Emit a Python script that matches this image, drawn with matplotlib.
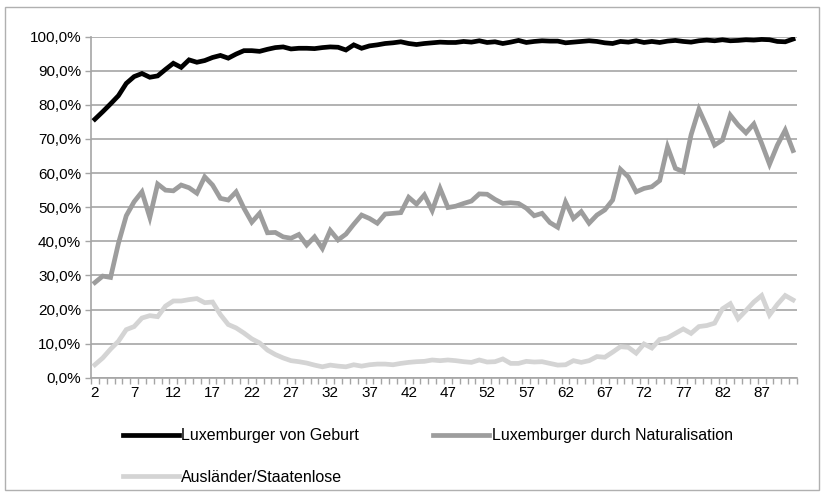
import matplotlib
matplotlib.use('Agg')
import matplotlib.pyplot as plt
from matplotlib.patches import Rectangle
from matplotlib.ticker import FuncFormatter, MultipleLocator, FixedLocator

plt.rcParams['font.family'] = ['Liberation Sans', 'DejaVu Sans']

# categories (age groups 2..91)
ages = list(range(2, 92))

geburt = [75.8, 78.0, 80.3, 82.7, 86.3, 88.3, 89.2, 88.1, 88.5, 90.4,
          92.2, 91.0, 93.2, 92.5, 93.0, 93.9, 94.5, 93.7, 94.9, 95.9,
          95.9, 95.7, 96.3, 96.8, 97.0, 96.4, 96.6, 96.6, 96.5, 96.8,
          97.0, 96.9, 96.1, 97.6, 96.6, 97.3, 97.6, 98.0, 98.2, 98.5,
          98.0, 97.7, 98.0, 98.2, 98.4, 98.3, 98.3, 98.6, 98.4, 98.8,
          98.3, 98.5, 98.0, 98.4, 98.9, 98.3, 98.6, 98.8, 98.7, 98.7,
          98.2, 98.4, 98.6, 98.8, 98.6, 98.2, 98.0, 98.6, 98.4, 98.8,
          98.3, 98.6, 98.3, 98.7, 98.9, 98.6, 98.4, 98.8, 99.0, 98.8,
          99.1, 98.8, 98.9, 99.1, 99.0, 99.2, 99.1, 98.6, 98.5, 99.3]

naturalisation = [27.9, 29.8, 29.4, 39.4, 47.5, 51.6, 54.5, 47.0, 56.8, 55.0,
                  54.8, 56.5, 55.7, 54.1, 58.9, 56.5, 52.6, 52.1, 54.5, 49.7,
                  45.6, 48.2, 42.5, 42.6, 41.3, 40.9, 42.0, 38.9, 41.3, 37.9,
                  43.2, 40.4, 42.1, 45.0, 47.7, 46.7, 45.3, 48.0, 48.2, 48.4,
                  52.9, 50.9, 53.6, 49.0, 55.5, 49.9, 50.3, 51.1, 51.8, 53.9,
                  53.8, 52.3, 51.1, 51.3, 51.1, 49.7, 47.5, 48.2, 45.5, 44.1,
                  51.5, 46.7, 48.7, 45.3, 47.7, 49.2, 52.1, 61.1, 58.9, 54.5,
                  55.5, 56.0, 57.8, 67.7, 61.4, 60.4, 71.2, 78.7, 73.6, 68.2,
                  69.7, 77.0, 74.1, 71.8, 74.4, 68.7, 62.6, 68.2, 72.6, 66.6]

auslaender = [3.8, 5.8, 8.4, 10.7, 14.1, 15.0, 17.5, 18.2, 17.9, 21.0,
              22.5, 22.5, 22.9, 23.2, 22.0, 22.2, 18.5, 15.6, 14.6, 13.1,
              11.4, 10.2, 8.1, 6.8, 5.8, 5.0, 4.7, 4.3, 3.7, 3.2,
              3.7, 3.4, 3.2, 3.8, 3.4, 3.8, 4.0, 4.0, 3.8, 4.2,
              4.5, 4.7, 4.8, 5.2, 5.0, 5.2, 5.0, 4.7, 4.5, 5.2,
              4.6, 4.7, 5.5, 4.2, 4.2, 4.8, 4.6, 4.7, 4.2, 3.7,
              3.8, 5.0, 4.5, 5.0, 6.2, 6.0, 7.5, 9.1, 8.9, 7.2,
              9.9, 8.7, 11.2, 11.7, 13.0, 14.3, 13.0, 15.0, 15.3, 16.0,
              20.2, 21.7, 17.3, 19.7, 22.2, 24.1, 18.4, 21.5, 24.1, 22.8]

labels = ['Luxemburger von Geburt', 'Luxemburger durch Naturalisation',
          'Ausländer/Staatenlose']
colours = ['#000000', '#9d9d9d', '#d4d4d4']

grid_col = '#a5a5a5'

fig = plt.figure(figsize=(8.24, 4.97), dpi=100)
ax = fig.add_axes([0.1104, 0.2400, 0.8568, 0.6862])

lines = []
for series, lab, col in zip([geburt, naturalisation, auslaender], labels, colours):
    ln, = ax.plot(ages, series, color=col, lw=3.4, label=lab,
                  solid_joinstyle='miter', zorder=3)
    lines.append(ln)

ax.set_xlim(1.5, 91.5)
ax.set_ylim(0, 100)
ax.yaxis.set_major_locator(MultipleLocator(10))
ax.yaxis.set_major_formatter(FuncFormatter(lambda v, p: f'{v:.1f}%'.replace('.', ',')))
ax.grid(axis='y', color=grid_col, lw=1.2, zorder=1)

ax.xaxis.set_major_locator(FixedLocator(list(range(2, 88, 5))))
ax.xaxis.set_minor_locator(FixedLocator([a + 0.5 for a in range(1, 92)]))
ax.tick_params(axis='x', which='major', length=0, pad=6, labelsize=11)
ax.tick_params(axis='x', which='minor', length=4, color=grid_col, width=1)
ax.tick_params(axis='y', length=4, color=grid_col, width=1, labelsize=11, pad=3)

for side in ['top', 'right']:
    ax.spines[side].set_visible(False)
for side in ['left', 'bottom']:
    ax.spines[side].set_color(grid_col)
    ax.spines[side].set_linewidth(1.2)

# column-wise fill: Geburt / Ausländer in column 1, Naturalisation in column 2
order = [0, 2, 1]
leg = fig.legend([lines[i] for i in order], [labels[i] for i in order],
                 loc='upper left', bbox_to_anchor=(0.149, 0.138), ncol=2,
                 frameon=False, fontsize=11.5, handlelength=3.5,
                 columnspacing=4.65, labelspacing=1.64, handletextpad=0.15,
                 borderaxespad=0, borderpad=0)

fig.patches.append(Rectangle((0.006, 0.014), 0.988, 0.972, transform=fig.transFigure,
                             fill=False, edgecolor='#b0b0b0', lw=1.0))

fig.savefig('out.png', dpi=100)
